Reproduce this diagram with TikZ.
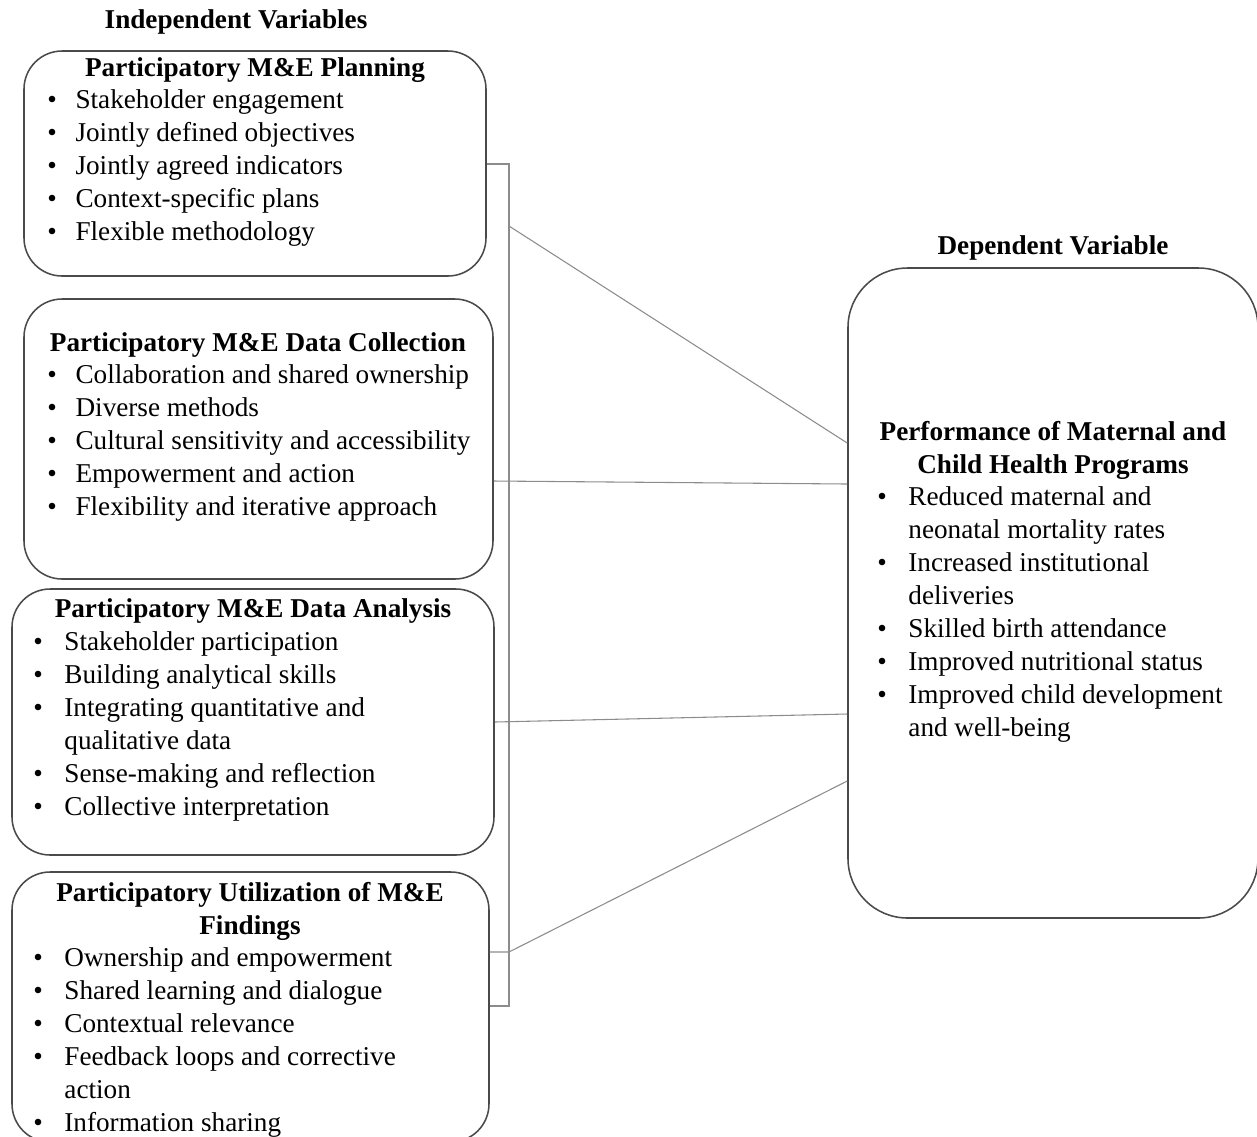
\documentclass[tikz,border=0pt]{standalone}
\usepackage{fontspec}
\setmainfont{Liberation Serif}
\usetikzlibrary{fit}
\newlength\bw
\newcommand\bul{\makebox[\bw][l]{\textbullet}}
\newcommand\cnt{\hspace*{\bw}}
\definecolor{boxline}{HTML}{4A4A4A}
\definecolor{conline}{HTML}{8C8C8C}
\tikzset{
  boxshape/.style={draw=boxline, line width=0.65pt, inner sep=0pt, rounded corners=16pt},
  bigbox/.style={boxshape, rounded corners=25pt},
  conn/.style={draw=conline, line width=0.45pt},
  txt/.style={inner sep=0pt, font=\fontsize{11.42}{13.86}\selectfont},
  head/.style={txt, anchor=base, font=\fontsize{11.42}{13.86}\selectfont\bfseries},
  body/.style={txt, anchor=base west},
}
\begin{document}
\begin{tikzpicture}[x=0.42pt, y=-0.42pt]
\useasboundingbox (0,0) rectangle (1257,1136);

% boxes
\node[boxshape, fit={(24,51) (486,276)}] (b1) {};
\node[boxshape, fit={(24,299) (493,579)}] (b2) {};
\node[boxshape, fit={(12,589) (494,855)}] (b3) {};
\node[boxshape, fit={(12,872) (489,1142)}] (b4) {};
\node[bigbox, fit={(848,268) (1258,918)}] (r) {};

% headings
\node[head] (hiv) at (236,28) {Independent Variables};
\node[head] (hdv) at (1053,254) {Dependent Variable};

% box 1
\node[head] (t1) at (255,76) {Participatory M\&E Planning};
\node[body] (l1) at (47,108) {\setlength\bw{11.8pt}\begin{tabular}[t]{@{}l@{}}
\bul Stakeholder engagement\\
\bul Jointly defined objectives\\
\bul Jointly agreed indicators\\
\bul Context-specific plans\\
\bul Flexible methodology
\end{tabular}};

% box 2
\node[head] (t2) at (258,351) {Participatory M\&E Data Collection};
\node[body] (l2) at (47,383) {\setlength\bw{11.8pt}\begin{tabular}[t]{@{}l@{}}
\bul Collaboration and shared ownership\\
\bul Diverse methods\\
\bul Cultural sensitivity and accessibility\\
\bul Empowerment and action\\
\bul Flexibility and iterative approach
\end{tabular}};

% box 3
\node[head] (t3) at (253,617) {Participatory M\&E Data Analysis};
\node[body] (l3) at (33,650) {\setlength\bw{13pt}\begin{tabular}[t]{@{}l@{}}
\bul Stakeholder participation\\
\bul Building analytical skills\\
\bul Integrating quantitative and\\
\cnt qualitative data\\
\bul Sense-making and reflection\\
\bul Collective interpretation
\end{tabular}};

% box 4
\node[head] (t4) at (250,901) {\begin{tabular}[t]{@{}c@{}}Participatory Utilization of M\&E\\ Findings\end{tabular}};
\node[body] (l4) at (33,966) {\setlength\bw{13pt}\begin{tabular}[t]{@{}l@{}}
\bul Ownership and empowerment\\
\bul Shared learning and dialogue\\
\bul Contextual relevance\\
\bul Feedback loops and corrective\\
\cnt action\\
\bul Information sharing
\end{tabular}};

% right box
\node[head] (tr) at (1053,440) {\begin{tabular}[t]{@{}c@{}}Performance of Maternal and\\ Child Health Programs\end{tabular}};
\node[body] (lr) at (877,505) {\setlength\bw{13pt}\begin{tabular}[t]{@{}l@{}}
\bul Reduced maternal and\\
\cnt neonatal mortality rates\\
\bul Increased institutional\\
\cnt deliveries\\
\bul Skilled birth attendance\\
\bul Improved nutritional status\\
\bul Improved child development\\
\cnt and well-being
\end{tabular}};

% bracket and connectors
\coordinate (jt) at (509,164);
\coordinate (jb) at (509,1006);
\coordinate (j1) at (509,226);
\coordinate (j4) at (509,952);
\draw[conn] (b1.east |- jt) -- (jt) -- (jb) -- (b4.east |- jb);
\draw[conn] (j1) -- (r.west |- 0,443);
\draw[conn] (b2.east |- 0,481) -- (r.west |- 0,484);
\draw[conn] (b3.east |- 0,722) -- (r.west |- 0,714);
\draw[conn] (b4.east |- j4) -- (j4) -- (r.west |- 0,781);
\end{tikzpicture}
\end{document}
